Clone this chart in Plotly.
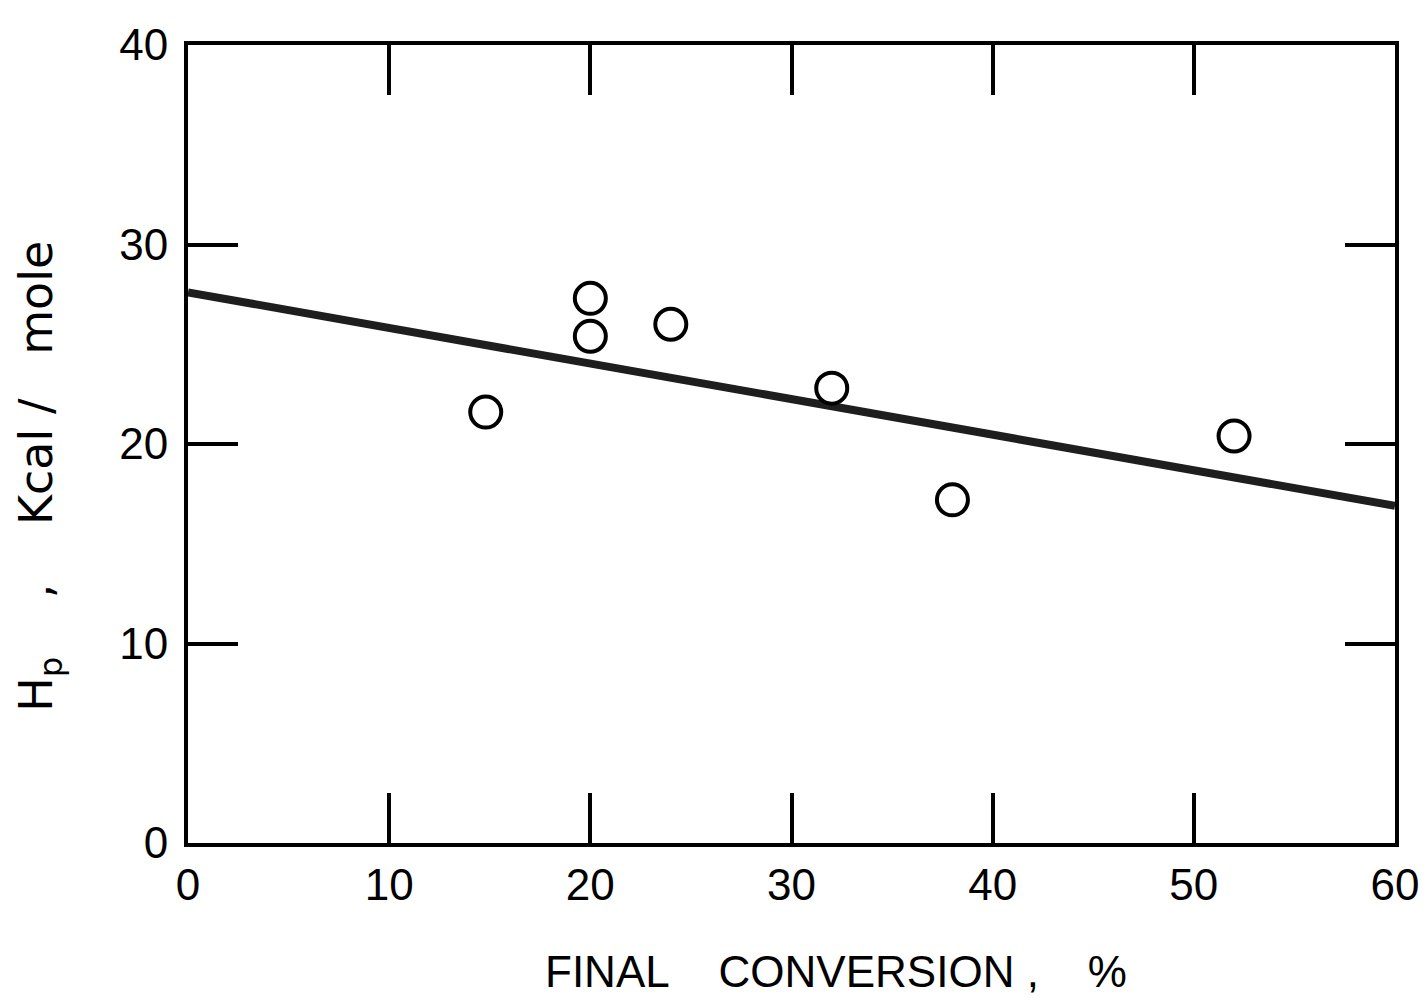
import plotly.graph_objects as go

conversion = [14.8, 20.0, 20.0, 24.0, 32.0, 38.0, 52.0]
hp = [21.6, 27.3, 25.4, 26.0, 22.8, 17.2, 20.4]
fit_x = [0, 60]
fit_y = [27.6, 16.9]
x_ticks = [0, 10, 20, 30, 40, 50, 60]
y_ticks = [0, 10, 20, 30, 40]

FONT = "Liberation Sans"
NB = "\u00a0"

fig = go.Figure()
fig.add_trace(go.Scatter(x=fit_x, y=fit_y, mode="lines",
                         line=dict(color="#1e1e1e", width=8), showlegend=False))
fig.add_trace(go.Scatter(x=conversion, y=hp, mode="markers",
                         marker=dict(symbol="circle-open", size=31,
                                     line=dict(color="black", width=4), color="black"),
                         showlegend=False))

axis_common = dict(showgrid=False, zeroline=False, showline=True, linecolor="black",
                   linewidth=4, mirror="ticks", ticks="inside", ticklen=50,
                   tickwidth=4, tickcolor="black",
                   tickfont=dict(family=FONT, size=44, color="black"))
fig.update_xaxes(range=[0, 60], tickvals=x_ticks, ticktext=[str(v) for v in x_ticks],
                 ticklabelstandoff=0, **axis_common)
fig.update_yaxes(range=[0, 40], tickvals=y_ticks, ticktext=[str(v) for v in y_ticks],
                 ticklabelstandoff=7, **axis_common)

x_title = "FINAL" + NB * 4 + "CONVERSION" + NB + "," + NB * 4 + "%"
y_title = "H<sub>p</sub>" + NB * 4 + "," + NB * 4 + "Kcal" + NB + "/" + NB * 3 + "mole"

fig.add_annotation(text=x_title, xref="paper", yref="paper",
                   x=0.537, y=-0.161, xanchor="center", yanchor="middle", showarrow=False,
                   font=dict(family=FONT, size=44, color="black"))
fig.add_annotation(text=y_title, xref="paper", yref="paper",
                   x=-0.1226, y=0.459, xanchor="center", yanchor="middle", showarrow=False,
                   textangle=-90, font=dict(family="DejaVu Sans", size=46, color="black"))

fig.update_layout(width=1427, height=1002, paper_bgcolor="white", plot_bgcolor="white",
                  margin=dict(l=180, r=40, t=27, b=167))
fig.write_html("out.html")
